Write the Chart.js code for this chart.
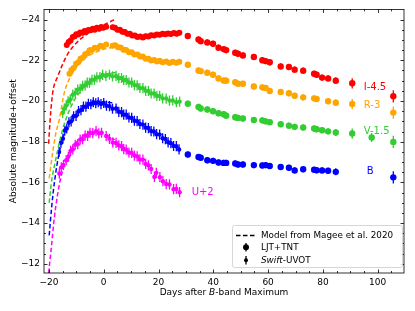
<!DOCTYPE html>
<html>
<head>
<meta charset="utf-8">
<script src="https://cdn.jsdelivr.net/npm/chart.js@4.4.1/dist/chart.umd.min.js"></script>
<style>
  html, body { margin: 0; padding: 0; background: #fff; }
</style>
</head>
<body>
<canvas id="lc" width="415" height="311"></canvas>
<script>
// tick labels
const xTicks = [-20, 0, 20, 40, 60, 80, 100];
const yTicks = [-24, -22, -20, -18, -16, -14, -12];

// early light curves (days after B max, absolute mag + offset)
const iEarlyDays = [-13.5, -12.8, -12.1, -11.3, -10.6, -10.0, -9.3, -8.6, -7.7, -7.0, -6.4, -5.6, -4.8, -4.0, -3.3, -2.5, -1.7, -0.9, -0.2, 0.9, 3.3, 4.1, 5.0, 5.9, 6.8, 7.7, 8.6, 9.5, 10.4, 11.4, 12.3, 13.3, 14.3, 15.3, 16.3, 17.3, 18.4, 19.4, 20.4, 21.5, 22.5, 23.5, 24.5, 25.6, 26.6, 27.6];
const iEarlyMags = [-22.75, -22.9, -22.97, -23.15, -23.18, -23.28, -23.27, -23.36, -23.35, -23.44, -23.4, -23.49, -23.47, -23.55, -23.5, -23.6, -23.55, -23.63, -23.6, -23.65, -23.62, -23.6, -23.5, -23.5, -23.4, -23.39, -23.3, -23.3, -23.22, -23.22, -23.15, -23.17, -23.12, -23.18, -23.17, -23.23, -23.22, -23.27, -23.25, -23.3, -23.28, -23.32, -23.29, -23.34, -23.3, -23.35];

const rEarlyDays = [-12.5, -11.8, -11.0, -10.1, -9.3, -8.5, -7.7, -6.8, -6.0, -5.2, -4.3, -3.3, -2.2, -1.2, -0.3, 0.9, 3.3, 4.2, 5.2, 6.2, 7.2, 8.2, 9.2, 10.2, 11.2, 12.3, 13.3, 14.3, 15.3, 16.3, 17.3, 18.4, 19.4, 20.4, 21.5, 22.8, 24.0, 25.2, 26.5, 27.6];
const rEarlyMags = [-21.34, -21.52, -21.62, -21.83, -21.9, -22.07, -22.12, -22.3, -22.34, -22.49, -22.5, -22.62, -22.6, -22.72, -22.68, -22.78, -22.72, -22.74, -22.64, -22.63, -22.52, -22.51, -22.4, -22.39, -22.28, -22.29, -22.18, -22.19, -22.08, -22.08, -21.99, -22.02, -21.94, -21.98, -21.9, -21.94, -21.87, -21.93, -21.88, -21.93];

const vEarlyDays = [-15.0, -14.4, -13.7, -13.0, -12.2, -11.3, -10.4, -9.5, -8.6, -7.7, -6.8, -6.0, -5.2, -4.3, -3.4, -2.5, -1.4, -0.4, 0.8, 2.1, 3.2, 4.5, 5.5, 6.5, 7.3, 8.2, 9.2, 10.2, 11.2, 12.2, 13.2, 14.3, 15.3, 16.3, 17.3, 18.4, 19.4, 20.4, 21.5, 22.8, 24.0, 25.2, 26.5, 27.7];
const vEarlyMags = [-19.42, -19.63, -19.78, -19.98, -20.07, -20.31, -20.4, -20.56, -20.6, -20.74, -20.77, -20.9, -20.9, -21.04, -21.05, -21.16, -21.17, -21.28, -21.23, -21.29, -21.21, -21.23, -21.12, -21.13, -21.02, -21.03, -20.91, -20.9, -20.78, -20.77, -20.64, -20.63, -20.5, -20.49, -20.37, -20.37, -20.25, -20.25, -20.13, -20.12, -20.02, -20.03, -19.94, -19.97];

const bEarlyDays = [-16.3, -15.6, -14.9, -14.2, -13.5, -12.7, -11.9, -11.0, -10.1, -9.2, -8.3, -7.4, -6.5, -5.6, -4.7, -3.8, -2.9, -2.0, -1.0, 0.0, 1.0, 2.1, 3.2, 4.5, 5.5, 6.5, 7.3, 8.2, 9.2, 10.2, 11.2, 12.2, 13.2, 14.3, 15.3, 16.3, 17.3, 18.3, 19.3, 20.4, 21.5, 22.5, 23.5, 24.5, 25.5, 26.5, 27.5];
const bEarlyMags = [-17.5, -17.95, -18.15, -18.55, -18.65, -18.95, -19.0, -19.25, -19.27, -19.5, -19.55, -19.72, -19.72, -19.86, -19.84, -19.94, -19.89, -19.94, -19.85, -19.9, -19.77, -19.75, -19.62, -19.63, -19.47, -19.45, -19.33, -19.33, -19.19, -19.17, -19.03, -19.01, -18.87, -18.84, -18.69, -18.67, -18.52, -18.5, -18.37, -18.35, -18.17, -18.13, -17.97, -17.93, -17.79, -17.78, -17.62];

const uEarlyDays = [-16.2, -15.5, -14.7, -13.7, -12.9, -12.1, -11.3, -10.4, -9.5, -8.6, -7.7, -6.8, -5.9, -5.0, -4.0, -2.8, -1.8, -0.8, 0.9, 2.1, 3.3, 4.5, 5.5, 6.5, 7.3, 8.2, 9.2, 10.2, 11.2, 12.2, 13.2, 14.3, 15.3, 16.3, 17.3, 18.5, 19.2, 20.5, 21.6, 22.8, 24.0, 25.5, 26.5, 27.7];
const uEarlyMags = [-16.44, -16.74, -16.86, -17.09, -17.26, -17.55, -17.62, -17.85, -17.88, -18.1, -18.12, -18.3, -18.29, -18.44, -18.42, -18.52, -18.41, -18.44, -18.28, -18.14, -17.96, -17.94, -17.82, -17.78, -17.64, -17.61, -17.47, -17.45, -17.32, -17.28, -17.13, -17.12, -16.91, -16.84, -16.66, -16.27, -16.47, -16.26, -16.06, -15.92, -15.9, -15.67, -15.68, -15.52];

// late LJT+TNT epochs, shared by I, R, V, B (null = no point)
const lateDays = [30.7, 34.6, 35.4, 37.8, 39.9, 41.9, 43.8, 44.7, 48.0, 49.0, 50.8, 54.8, 57.9, 59.1, 60.6, 64.6, 67.6, 69.7, 72.8, 76.8, 77.7, 79.7, 81.9, 84.7, 90.7, 97.8, 105.7];
const iLate = [-23.19, -23.02, -22.94, -22.88, -22.81, -22.62, -22.55, -22.5, -22.37, -22.32, -22.24, -22.16, -22.0, -21.96, -21.9, -21.7, -21.67, -21.54, -21.49, -21.34, -21.29, -21.15, -21.11, -21.0, -20.87, null, -20.23];
const rLate = [-21.78, -21.5, -21.47, -21.39, -21.29, -21.11, -21.01, -21.0, -20.92, -20.85, -20.85, -20.71, -20.67, -20.64, -20.49, -20.44, -20.38, -20.26, -20.18, -20.13, -20.1, null, -19.99, -19.92, -19.85, null, -19.43];
const vLate = [-19.87, -19.71, -19.63, -19.58, -19.5, -19.4, -19.35, -19.28, -19.2, -19.17, -19.14, -19.07, -19.05, -19.0, -18.96, -18.86, -18.79, -18.73, -18.7, -18.65, -18.61, -18.56, -18.51, -18.45, -18.4, -18.21, -17.99];
const bLate = [-17.37, -17.25, -17.21, -17.09, -17.06, -16.98, -16.96, -16.96, -16.93, -16.88, -16.88, -16.85, -16.83, -16.85, -16.81, -16.76, -16.72, -16.59, -16.65, -16.62, -16.6, -16.59, -16.57, -16.52, null, null, -16.25];
const lateErr = [0.15, 0.15, 0.15, 0.15, 0.15, 0.15, 0.15, 0.15, 0.15, 0.15, 0.15, 0.15, 0.15, 0.15, 0.15, 0.15, 0.15, 0.15, 0.15, 0.15, 0.15, 0.15, 0.15, 0.17, 0.25, 0.22, 0.3];
const ljtEarlyErr = 0.12;
const swiftErr = 0.25;

// Magee et al. 2020 model curves
const iModelDays = [-20.1, -19.6, -18.9, -18.4, -16.8, -15.0, -13.2, -10.0, -6.0, -2.0, 0.9, 4.5];
const iModelMags = [-17.9, -19.0, -20.1, -20.6, -21.2, -21.8, -22.3, -22.85, -23.3, -23.6, -23.8, -24.04];
const rModelDays = [-19.9, -18.6, -17.5, -16.2, -14.4, -11.9, -7.7, -2.8, 1.0, 4.5];
const rModelMags = [-16.2, -17.5, -18.4, -19.1, -20.4, -21.25, -22.0, -22.4, -22.58, -22.65];
const vModelDays = [-19.9, -19.2, -17.4, -15.0, -11.3, -7.0, -3.0, 0.0, 4.5];
const vModelMags = [-15.0, -15.9, -17.2, -18.6, -19.9, -20.7, -21.15, -21.3, -21.4];
const bModelDays = [-19.9, -19.0, -18.0, -16.2, -14.0, -11.0, -7.0, -3.0, 0.0, 4.0];
const bModelMags = [-13.4, -14.8, -16.0, -17.5, -18.5, -19.2, -19.7, -19.9, -19.95, -19.9];
const uModelDays = [-20.1, -19.2, -18.0, -16.2, -14.0, -11.0, -7.0, -3.0, 0.0, 4.0];
const uModelMags = [-11.55, -12.7, -14.3, -15.9, -17.0, -17.8, -18.3, -18.45, -18.4, -18.1];

const bandNames = ['I-4.5', 'R-3', 'V-1.5', 'B', 'U+2'];
const bandColors = ['#ff0000', '#ffa500', '#32cd32', '#0000ff', '#ff00ff'];

const FONT = "'DejaVu Sans', sans-serif";
const minus = v => String(v).replace('-', '\u2212');

function pts(days, mags) {
  const out = [];
  days.forEach((d, i) => { if (mags[i] != null) out.push({ x: d, y: mags[i] }); });
  return out;
}
function errs(mags, e) {
  const out = [];
  mags.forEach((m, i) => { if (m != null) out.push(Array.isArray(e) ? e[i] : e); });
  return out;
}

function model(days, mags, color) {
  return {
    data: pts(days, mags), showLine: true, pointRadius: 0, borderColor: color,
    borderWidth: 1.5, borderDash: [4.5, 2.5], cubicInterpolationMode: 'monotone', order: 0
  };
}
function marks(days, mags, e, color, r) {
  return {
    data: pts(days, mags), errs: errs(mags, e), showLine: false,
    pointRadius: r, pointHoverRadius: r, pointBorderWidth: 0,
    backgroundColor: color, borderColor: color, order: 1
  };
}

const datasets = [
  marks(iEarlyDays, iEarlyMags, ljtEarlyErr, bandColors[0], 3),
  marks(lateDays, iLate, lateErr, bandColors[0], 3.2),
  marks(rEarlyDays, rEarlyMags, ljtEarlyErr, bandColors[1], 3),
  marks(lateDays, rLate, lateErr, bandColors[1], 3.2),
  marks(vEarlyDays, vEarlyMags, swiftErr, bandColors[2], 2.2),
  marks(lateDays, vLate, lateErr, bandColors[2], 3.2),
  marks(bEarlyDays, bEarlyMags, swiftErr, bandColors[3], 2.2),
  marks(lateDays, bLate, lateErr, bandColors[3], 3.2),
  marks(uEarlyDays, uEarlyMags, swiftErr, bandColors[4], 2.2),
  model(iModelDays, iModelMags, bandColors[0]),
  model(rModelDays, rModelMags, bandColors[1]),
  model(vModelDays, vModelMags, bandColors[2]),
  model(bModelDays, bModelMags, bandColors[3]),
  model(uModelDays, uModelMags, bandColors[4])
];

const decor = {
  id: 'decor',
  beforeDatasetsDraw(chart) {
    const ctx = chart.ctx, ys = chart.scales.y, a = chart.chartArea;
    ctx.save();
    ctx.beginPath(); ctx.rect(a.left, a.top, a.right - a.left, a.bottom - a.top); ctx.clip();
    ctx.lineWidth = 1.3;
    chart.data.datasets.forEach((ds, i) => {
      if (!ds.errs) return;
      ctx.strokeStyle = ds.borderColor;
      chart.getDatasetMeta(i).data.forEach((p, j) => {
        const v = ds.data[j].y, e = ds.errs[j];
        ctx.beginPath();
        ctx.moveTo(p.x, ys.getPixelForValue(v - e));
        ctx.lineTo(p.x, ys.getPixelForValue(v + e));
        ctx.stroke();
      });
    });
    ctx.restore();
  },
  afterDraw(chart) {
    const ctx = chart.ctx, xs = chart.scales.x, ys = chart.scales.y;
    const { left, right, top, bottom } = chart.chartArea;
    ctx.save();
    // frame and inward ticks on all four sides
    ctx.strokeStyle = '#000';
    ctx.lineWidth = 0.8;
    ctx.strokeRect(left, top, right - left, bottom - top);
    for (let v = -20; v <= 105; v += 5) {
      const px = Math.round(xs.getPixelForValue(v)) + 0.5;
      const len = v % 20 === 0 ? 3.5 : 2;
      ctx.beginPath();
      ctx.moveTo(px, bottom); ctx.lineTo(px, bottom - len);
      ctx.moveTo(px, top); ctx.lineTo(px, top + len);
      ctx.stroke();
    }
    for (let v = -24; v <= -12; v += 0.5) {
      const py = Math.round(ys.getPixelForValue(v)) + 0.5;
      const len = v % 2 === 0 ? 3.5 : 2;
      ctx.beginPath();
      ctx.moveTo(left, py); ctx.lineTo(left + len, py);
      ctx.moveTo(right, py); ctx.lineTo(right - len, py);
      ctx.stroke();
    }

    // band labels
    ctx.font = '10px ' + FONT;
    ctx.textBaseline = 'middle';
    ctx.textAlign = 'left';
    const labDays = [94.9, 94.9, 94.9, 96.0, 32.1];
    const labMags = [-20.67, -19.79, -18.51, -16.55, -15.52];
    bandNames.forEach((n, i) => {
      ctx.fillStyle = bandColors[i];
      ctx.fillText(n, xs.getPixelForValue(labDays[i]), ys.getPixelForValue(labMags[i]));
    });

    // axis titles
    ctx.fillStyle = '#000';
    ctx.font = '9px ' + FONT;
    const p1 = 'Days after ', p2 = 'B', p3 = '-band Maximum';
    const w1 = ctx.measureText(p1).width, w3 = ctx.measureText(p3).width;
    ctx.font = 'italic 9px ' + FONT;
    const w2 = ctx.measureText(p2).width;
    let tx = (left + right) / 2 - (w1 + w2 + w3) / 2;
    const ty = 293;
    ctx.font = '9px ' + FONT; ctx.fillText(p1, tx, ty); tx += w1;
    ctx.font = 'italic 9px ' + FONT; ctx.fillText(p2, tx, ty); tx += w2;
    ctx.font = '9px ' + FONT; ctx.fillText(p3, tx, ty);

    ctx.save();
    ctx.translate(14, (top + bottom) / 2);
    ctx.rotate(-Math.PI / 2);
    ctx.textAlign = 'center';
    ctx.fillText('Absolute magnitude+offset', 0, 0);
    ctx.restore();

    // legend
    const lx = 232, ly = 225, lw = 170, lh = 42;
    ctx.fillStyle = 'rgba(255,255,255,0.85)';
    ctx.strokeStyle = '#cccccc';
    ctx.lineWidth = 0.8;
    ctx.beginPath(); ctx.roundRect(lx + 0.5, ly + 0.5, lw, lh, 2); ctx.fill(); ctx.stroke();

    ctx.strokeStyle = '#000'; ctx.fillStyle = '#000';
    ctx.lineWidth = 1.5; ctx.setLineDash([4.5, 2.5]);
    ctx.beginPath(); ctx.moveTo(236, 235.5); ctx.lineTo(257, 235.5); ctx.stroke();
    ctx.setLineDash([]);
    ctx.lineWidth = 1.3;
    ctx.beginPath(); ctx.moveTo(246, 243); ctx.lineTo(246, 251.5); ctx.stroke();
    ctx.beginPath(); ctx.arc(246, 247.3, 3, 0, Math.PI * 2); ctx.fill();
    ctx.beginPath(); ctx.moveTo(246, 256); ctx.lineTo(246, 264.5); ctx.stroke();
    ctx.beginPath(); ctx.arc(246, 260.3, 2, 0, Math.PI * 2); ctx.fill();

    const lf = '8.8px ' + FONT;
    ctx.font = lf;
    ctx.fillText('Model from Magee et al. 2020', 261, 235.5);
    ctx.fillText('LJT+TNT', 261, 247.3);
    ctx.font = 'italic ' + lf;
    ctx.fillText('Swift', 261, 260.3);
    const ws = ctx.measureText('Swift').width;
    ctx.font = lf;
    ctx.fillText('-UVOT', 261 + ws, 260.3);
    ctx.restore();
  }
};

new Chart(document.getElementById('lc'), {
  type: 'scatter',
  data: { datasets },
  options: {
    responsive: false,
    animation: false,
    events: [],
    layout: { padding: { top: 9, right: 11, left: 0, bottom: 0 } },
    plugins: { legend: { display: false }, tooltip: { enabled: false } },
    scales: {
      x: {
        type: 'linear', min: -21.8, max: 109.6,
        grid: { display: false, drawTicks: false },
        border: { display: false },
        ticks: { color: '#000', padding: 4, font: { family: FONT, size: 9 }, callback: v => minus(v) },
        afterBuildTicks: s => { s.ticks = xTicks.map(v => ({ value: v })); },
        afterFit: s => { s.height = 38; }
      },
      y: {
        type: 'linear', reverse: true, min: -24.5, max: -11.55,
        grid: { display: false, drawTicks: false },
        border: { display: false },
        ticks: { color: '#000', padding: 4, font: { family: FONT, size: 9 }, callback: v => minus(v) },
        afterBuildTicks: s => { s.ticks = yTicks.map(v => ({ value: v })); },
        afterFit: s => { s.width = 44; }
      }
    }
  },
  plugins: [decor]
});
</script>
</body>
</html>
